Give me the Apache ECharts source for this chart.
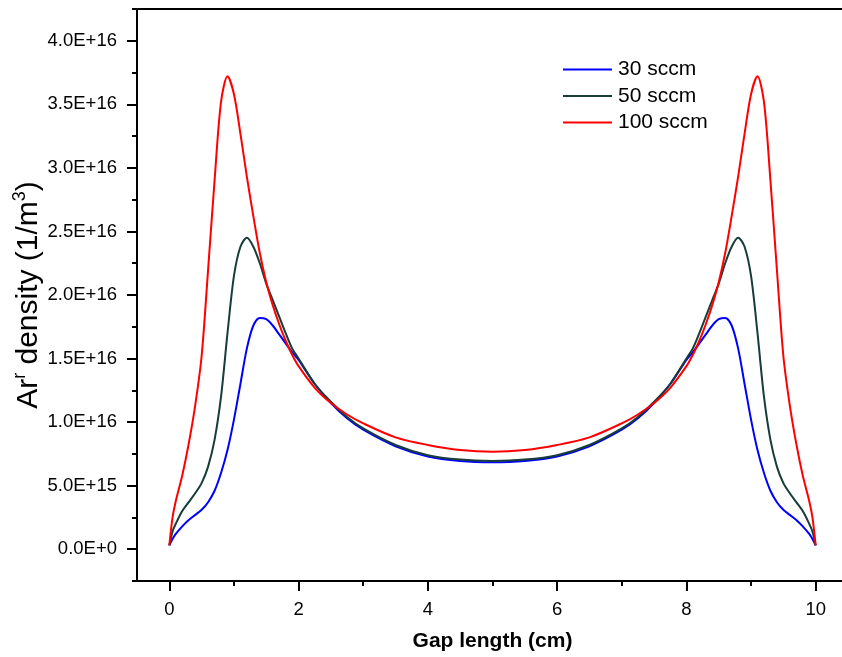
<!DOCTYPE html>
<html>
<head>
<meta charset="utf-8">
<script src="https://cdn.jsdelivr.net/npm/echarts@6/dist/echarts.min.js"></script>
<style>
html,body{margin:0;padding:0;background:#fff;}
#chart{width:842px;height:657px;}
</style>
</head>
<body>
<div id="chart"></div>
<script>
// Gap length positions (cm)
var gapX = [0, 0.05, 0.1, 0.2, 0.3, 0.4, 0.5, 0.6, 0.7, 0.8, 0.9, 1.0, 1.1, 1.2, 1.3, 1.4, 1.5, 1.6, 1.7, 1.8, 1.9, 2.0, 2.25, 2.5, 2.75, 3.0, 3.5, 4.0, 4.5, 5.0,
            5.5, 6.0, 6.5, 7.0, 7.25, 7.5, 7.75, 8.0, 8.1, 8.2, 8.3, 8.4, 8.5, 8.6, 8.7, 8.8, 8.9, 9.0, 9.1, 9.2, 9.3, 9.4, 9.5, 9.6, 9.7, 9.8, 9.9, 9.95, 10];

// Ar^r density in units of 1e16 1/m^3
var sccm30 = [0.03, 0.08, 0.12, 0.18, 0.23, 0.27, 0.31, 0.37, 0.46, 0.60, 0.78, 1.02, 1.30, 1.58, 1.76, 1.82, 1.81, 1.76, 1.69, 1.62, 1.55, 1.49, 1.30, 1.15, 1.03, 0.94, 0.81, 0.73, 0.695, 0.685,
              0.695, 0.73, 0.81, 0.94, 1.03, 1.15, 1.30, 1.49, 1.55, 1.62, 1.69, 1.76, 1.81, 1.82, 1.76, 1.58, 1.30, 1.02, 0.78, 0.60, 0.46, 0.37, 0.31, 0.27, 0.23, 0.18, 0.12, 0.08, 0.03];
var sccm50 = [0.03, 0.14, 0.20, 0.30, 0.37, 0.44, 0.52, 0.65, 0.86, 1.20, 1.70, 2.15, 2.38, 2.45, 2.38, 2.25, 2.09, 1.96, 1.83, 1.70, 1.58, 1.50, 1.30, 1.16, 1.04, 0.95, 0.82, 0.74, 0.705, 0.695,
              0.705, 0.74, 0.82, 0.95, 1.04, 1.16, 1.30, 1.50, 1.58, 1.70, 1.83, 1.96, 2.09, 2.25, 2.38, 2.45, 2.38, 2.15, 1.70, 1.20, 0.86, 0.65, 0.52, 0.44, 0.37, 0.30, 0.20, 0.14, 0.03];
var sccm100 = [0.03, 0.25, 0.38, 0.58, 0.83, 1.13, 1.52, 2.20, 2.90, 3.52, 3.72, 3.58, 3.27, 2.93, 2.62, 2.33, 2.10, 1.92, 1.77, 1.64, 1.53, 1.44, 1.27, 1.15, 1.06, 0.99, 0.88, 0.82, 0.78, 0.766,
               0.78, 0.82, 0.88, 0.99, 1.06, 1.15, 1.27, 1.44, 1.53, 1.64, 1.77, 1.92, 2.10, 2.33, 2.62, 2.93, 3.27, 3.58, 3.72, 3.52, 2.90, 2.20, 1.52, 1.13, 0.83, 0.58, 0.38, 0.25, 0.03];

var seriesNames = ['30 sccm', '50 sccm', '100 sccm'];
var seriesColors = ['#0000ff', '#163d38', '#ff0000'];

var xMajorTicks = [0, 2, 4, 6, 8, 10];
var xMinorTicks = [1, 3, 5, 7, 9];
var yMajorTicks = [0, 0.5e16, 1.0e16, 1.5e16, 2.0e16, 2.5e16, 3.0e16, 3.5e16, 4.0e16];
var yMinorTicks = [-0.25e16, 0.25e16, 0.75e16, 1.25e16, 1.75e16, 2.25e16, 2.75e16, 3.25e16, 3.75e16, 4.25e16];
var yTickLabels = ['0.0E+0', '5.0E+15', '1.0E+16', '1.5E+16', '2.0E+16', '2.5E+16', '3.0E+16', '3.5E+16', '4.0E+16'];

function pairs(vals) {
  return gapX.map(function (x, i) { return [x, vals[i] * 1e16]; });
}

var FONT = 'Arial, "Liberation Sans", sans-serif';
var axisLineStyle = { color: '#000', width: 2 };

var chart = echarts.init(document.getElementById('chart'));
chart.setOption({
  animation: false,
  backgroundColor: '#fff',
  textStyle: { fontFamily: FONT },
  grid: { left: 137, right: -6, top: 9, bottom: 76, containLabel: false, outerBoundsMode: 'none',
          show: true, borderColor: '#000', borderWidth: 2, backgroundColor: 'transparent' },
  legend: {
    left: 558, top: 54, orient: 'vertical', icon: 'rect',
    itemWidth: 49, itemHeight: 2, itemGap: 5.5,
    textStyle: { fontSize: 21, color: '#000', fontFamily: FONT, padding: [0, 0, 0, 1] },
    data: seriesNames
  },
  xAxis: [
    {
      type: 'value', min: -0.5, max: 10.5, position: 'bottom',
      name: 'Gap length (cm)', nameLocation: 'middle', nameGap: 50, nameMoveOverlap: false,
      nameTextStyle: { fontSize: 21, fontWeight: 'bold', color: '#000', fontFamily: FONT },
      axisLine: { onZero: false, lineStyle: axisLineStyle },
      axisTick: { customValues: xMinorTicks, length: 5, lineStyle: axisLineStyle },
      axisLabel: { customValues: xMajorTicks, fontSize: 18.5, margin: 19, color: '#000', fontFamily: FONT },
      splitLine: { show: false }
    },
    {
      type: 'value', min: -0.5, max: 10.5, position: 'bottom',
      axisLine: { show: false, onZero: false },
      axisTick: { customValues: xMajorTicks, length: 10, lineStyle: axisLineStyle },
      axisLabel: { show: false },
      splitLine: { show: false }
    }
  ],
  yAxis: [
    {
      type: 'value', min: -0.25e16, max: 4.25e16, position: 'left',
      name: 'Ar{sup|r} density (1/m{sup|3})', nameLocation: 'middle', nameGap: 90, nameMoveOverlap: false,
      nameTextStyle: {
        fontSize: 30, color: '#000', fontFamily: FONT, lineHeight: 36,
        rich: { sup: { fontSize: 18, verticalAlign: 'top', lineHeight: 36, color: '#000', fontFamily: FONT } }
      },
      axisLine: { onZero: false, lineStyle: axisLineStyle },
      axisTick: { customValues: yMinorTicks, length: 5, lineStyle: axisLineStyle },
      axisLabel: {
        customValues: yMajorTicks, fontSize: 18.5, margin: 20, color: '#000', fontFamily: FONT,
        formatter: function (v) {
          var i = yMajorTicks.findIndex(function (t) { return Math.abs(t - v) < 1e12; });
          return i >= 0 ? yTickLabels[i] : '';
        }
      },
      splitLine: { show: false }
    },
    {
      type: 'value', min: -0.25e16, max: 4.25e16, position: 'left',
      axisLine: { show: false, onZero: false },
      axisTick: { customValues: yMajorTicks, length: 10, lineStyle: axisLineStyle },
      axisLabel: { show: false },
      splitLine: { show: false }
    }
  ],
  series: [0, 1, 2].map(function (k) {
    var vals = [sccm30, sccm50, sccm100][k];
    return {
      type: 'line', name: seriesNames[k], xAxisIndex: 0, yAxisIndex: 0,
      data: pairs(vals), showSymbol: false, symbol: 'none', smooth: 0.3,
      lineStyle: { color: seriesColors[k], width: 2 }, itemStyle: { color: seriesColors[k] }
    };
  })
});
</script>
</body>
</html>
